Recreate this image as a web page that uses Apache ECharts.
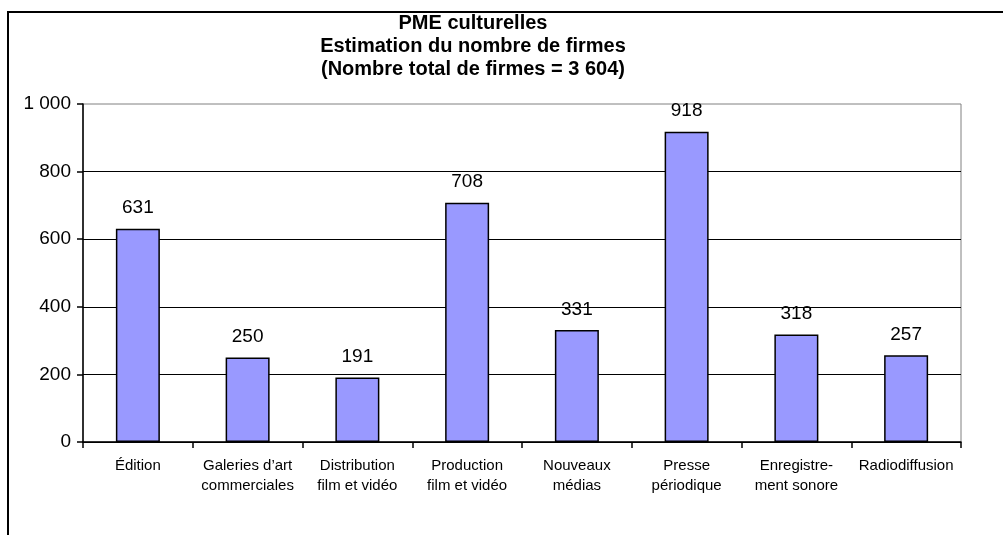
<!DOCTYPE html>
<html>
<head>
<meta charset="utf-8">
<script src="https://cdn.jsdelivr.net/npm/echarts@6/dist/echarts.min.js"></script>
<style>
  html, body { margin: 0; padding: 0; background: #fff; overflow: hidden; }
  #chart { width: 1003px; height: 535px; }
  .frame {
    position: absolute; left: 7px; top: 11px; right: -10px; bottom: -10px;
    border-left: 2px solid #000; border-top: 2px solid #000; pointer-events: none;
  }
</style>
</head>
<body>
<div id="chart"></div>
<div class="frame"></div>
<script>
var categories = ['Édition', 'Galeries d\u2019art\ncommerciales', 'Distribution\nfilm et vidéo',
  'Production\nfilm et vidéo', 'Nouveaux\nmédias', 'Presse\npériodique',
  'Enregistre-\nment sonore', 'Radiodiffusion'];
var firmes = [631, 250, 191, 708, 331, 918, 318, 257];
var yTicks = [0, 200, 400, 600, 800, 1000];

var chart = echarts.init(document.getElementById('chart'));
var font = '"Liberation Sans", Arial, sans-serif';

var option = {
  backgroundColor: '#fff',
  animation: false,
  title: {
    text: 'PME culturelles\nEstimation du nombre de firmes\n(Nombre total de firmes = 3 604)',
    left: 473,
    top: 12,
    textAlign: 'center',
    padding: 0,
    textStyle: {
      fontFamily: font,
      fontWeight: 'bold',
      fontSize: 20,
      lineHeight: 23,
      color: '#000'
    }
  },
  grid: {
    left: 83,
    right: 42,
    top: 104,
    bottom: 93,
    show: true,
    borderColor: '#808080',
    borderWidth: 1
  },
  xAxis: {
    type: 'category',
    data: categories,
    axisLine: { lineStyle: { color: '#000', width: 1.5 } },
    axisTick: { show: true, length: 6, lineStyle: { color: '#000', width: 1.5 } },
    axisLabel: {
      interval: 0,
      margin: 14,
      fontFamily: font,
      fontSize: 15,
      lineHeight: 20,
      color: '#000'
    }
  },
  yAxis: {
    type: 'value',
    min: yTicks[0],
    max: yTicks[yTicks.length - 1],
    interval: 200,
    axisLine: { show: true, lineStyle: { color: '#000', width: 1.5 } },
    axisTick: { show: true, length: 6, lineStyle: { color: '#000', width: 1.5 } },
    splitLine: { show: true, showMaxLine: false, lineStyle: { color: '#000', width: 1 } },
    axisLabel: {
      margin: 12,
      fontFamily: font,
      fontSize: 19,
      color: '#000',
      formatter: function (v) {
        return v >= 1000 ? String(v).replace(/(\d)(\d{3})$/, '$1 $2') : String(v);
      }
    }
  },
  series: [{
    type: 'bar',
    data: firmes,
    barWidth: 44,
    itemStyle: { color: '#9999FF', borderColor: '#000', borderWidth: 1.5 },
    label: {
      show: true,
      position: 'top',
      distance: 11,
      fontFamily: font,
      fontSize: 19,
      color: '#000'
    }
  }]
};
chart.setOption(option);
</script>
</body>
</html>
